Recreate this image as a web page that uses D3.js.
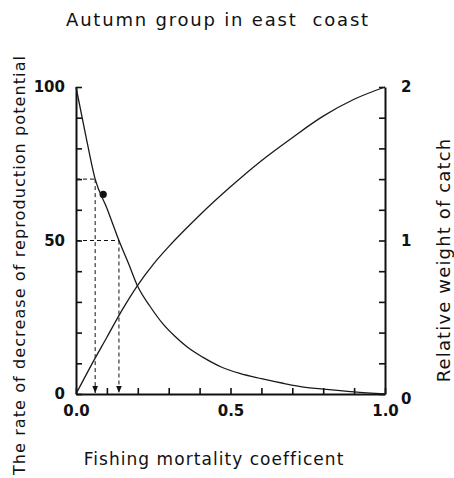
<!DOCTYPE html>
<html>
<head>
<meta charset="utf-8">
<script src="https://cdn.jsdelivr.net/npm/d3@7"></script>
<style>
  html, body { margin: 0; padding: 0; background: #fff; }
  svg { display: block; }
  .lbl { font-family: "DejaVu Sans", sans-serif; fill: #111; white-space: pre; }
  .tick text { font-family: "DejaVu Sans", sans-serif; font-weight: bold; font-size: 15px; fill: #111; }
</style>
</head>
<body>
<svg id="chart" width="454" height="478"></svg>
<script>
// Fishing mortality coefficient (F) sample points for each curve
const reproF = [0, 0.03, 0.062, 0.1, 0.139, 0.17, 0.2, 0.24, 0.28, 0.32, 0.36, 0.41, 0.47, 0.53, 0.6, 0.67, 0.75, 0.8, 0.9, 1.0];
const reproValues = [100, 85, 70, 60.5, 50, 42.5, 35, 28.5, 23, 18.8, 15.3, 12, 8.8, 6.7, 5, 3.5, 2.1, 1.6, 0.7, 0];

const catchF = [0, 0.05, 0.1, 0.15, 0.2, 0.25, 0.3, 0.35, 0.4, 0.5, 0.6, 0.7, 0.8, 0.9, 1.0];
const catchValues = [0, 0.19, 0.37, 0.55, 0.71, 0.845, 0.96, 1.065, 1.165, 1.35, 1.52, 1.67, 1.81, 1.92, 2.0];

const refLevels = [70, 50];
const refF = [0.062, 0.139];

// Highlighted point on the reproduction curve
const markerF = [0.088];
const markerValues = [65];

// Tick values and labels
const xTicks = d3.range(0, 1.0001, 0.1);
const xLabels = { "0": "0.0", "0.5": "0.5", "1": "1.0" };
const leftTicks = d3.range(0, 101, 10);
const leftLabels = [0, 50, 100];
const rightTicks = d3.range(0, 2.0001, 0.2);
const rightLabels = [0, 1, 2];

const title = "Autumn group in east  coast";
const xTitle = "Fishing mortality coefficent";
const leftTitle = "The rate of decrease of reproduction potential";
const rightTitle = "Relative weight of catch";

const svg = d3.select("#chart");
const x = d3.scaleLinear().domain([0, 1]).range([76, 385]);
const yL = d3.scaleLinear().domain([0, 100]).range([394, 87]);
const yR = d3.scaleLinear().domain([0, 2]).range([394, 87]);

const near = (a, b) => Math.abs(a - b) < 1e-6;

// Axes: ticks point into the plot
const gx = svg.append("g").attr("transform", `translate(0,${yL(0)})`)
  .call(d3.axisBottom(x).tickValues(xTicks).tickSizeInner(-6).tickSizeOuter(0).tickPadding(11)
    .tickFormat(d => { const k = Object.keys(xLabels).find(k => near(+k, d)); return k !== undefined ? xLabels[k] : ""; }));

const gl = svg.append("g").attr("transform", `translate(${x(0)},0)`)
  .call(d3.axisLeft(yL).tickValues(leftTicks).tickSizeInner(-6).tickSizeOuter(0).tickPadding(11)
    .tickFormat(d => leftLabels.includes(d) ? String(d) : ""));

const gr = svg.append("g").attr("transform", `translate(${x(1)},0)`)
  .call(d3.axisRight(yR).tickValues(rightTicks).tickSizeInner(-6).tickSizeOuter(0).tickPadding(16)
    .tickFormat(d => rightLabels.some(v => near(v, d)) ? d3.format("d")(d) : ""));

[gx, gl, gr].forEach(g => {
  g.select(".domain").attr("stroke", "#111").attr("stroke-width", 2);
  g.selectAll(".tick line").attr("stroke", "#111").attr("stroke-width", 1.6);
});
gx.selectAll(".tick text").attr("dy", "0.72em");
gr.selectAll(".tick text").filter(d => near(d, 0)).attr("dy", "0.6em");

// Reference dashed guides with arrows down to the F axis
svg.append("defs").append("marker")
  .attr("id", "arrow").attr("viewBox", "0 0 10 10").attr("refX", 10).attr("refY", 5)
  .attr("markerWidth", 7).attr("markerHeight", 7).attr("orient", "auto")
  .append("path").attr("d", "M0,1 L10,5 L0,9 Z").attr("fill", "#111");

const guides = refLevels.map((v, i) => ({ v, f: refF[i] }));
svg.append("g").selectAll("path.h").data(guides).join("path")
  .attr("d", d => `M${x(0)},${yL(d.v)} H${x(d.f)}`)
  .attr("stroke", "#111").attr("stroke-width", 1).attr("stroke-dasharray", "4,3").attr("fill", "none");
svg.append("g").selectAll("path.v").data(guides).join("path")
  .attr("d", d => `M${x(d.f)},${yL(d.v)} V${yL(0) - 1}`)
  .attr("stroke", "#111").attr("stroke-width", 1).attr("stroke-dasharray", "4,3").attr("fill", "none")
  .attr("marker-end", "url(#arrow)");

// Curves
const lineL = d3.line().x(d => x(d[0])).y(d => yL(d[1])).curve(d3.curveMonotoneX);
const lineR = d3.line().x(d => x(d[0])).y(d => yR(d[1])).curve(d3.curveMonotoneX);

svg.append("path").datum(d3.zip(reproF, reproValues))
  .attr("d", lineL).attr("fill", "none").attr("stroke", "#1a1a1a").attr("stroke-width", 1.3);
svg.append("path").datum(d3.zip(catchF, catchValues))
  .attr("d", lineR).attr("fill", "none").attr("stroke", "#1a1a1a").attr("stroke-width", 1.3);

svg.append("g").selectAll("circle").data(d3.zip(markerF, markerValues)).join("circle")
  .attr("cx", d => x(d[0])).attr("cy", d => yL(d[1])).attr("r", 3.6).attr("fill", "#111");

// Titles
svg.append("text").attr("class", "lbl").attr("x", 218).attr("y", 26)
  .attr("text-anchor", "middle").attr("font-size", 18).attr("letter-spacing", 1.8)
  .text(title);
svg.append("text").attr("class", "lbl").attr("x", 214).attr("y", 465)
  .attr("text-anchor", "middle").attr("font-size", 17).attr("letter-spacing", 1.05)
  .text(xTitle);
svg.append("text").attr("class", "lbl")
  .attr("transform", "translate(25,265) rotate(-90)")
  .attr("text-anchor", "middle").attr("font-size", 16).attr("letter-spacing", 1.1)
  .text(leftTitle);
svg.append("text").attr("class", "lbl")
  .attr("transform", "translate(450,260) rotate(-90)")
  .attr("text-anchor", "middle").attr("font-size", 18).attr("letter-spacing", 1.15)
  .text(rightTitle);
</script>
</body>
</html>
